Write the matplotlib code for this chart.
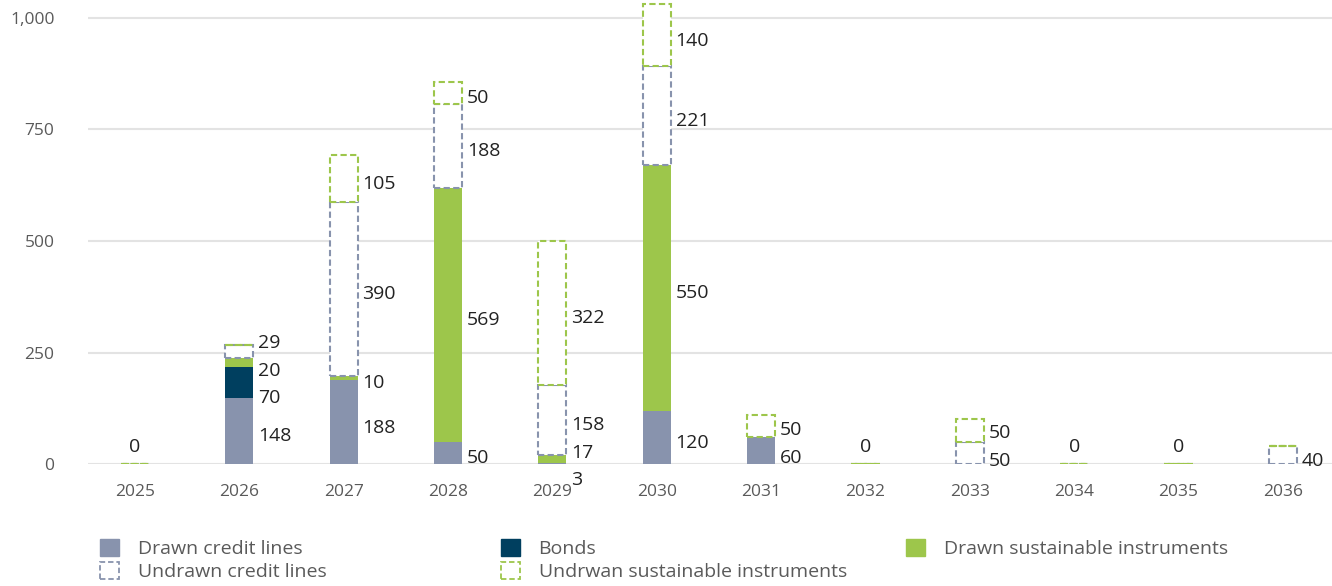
import matplotlib
matplotlib.use("Agg")
import matplotlib.pyplot as plt
from matplotlib.patches import Patch
from matplotlib.ticker import FuncFormatter

# data
years = ["2025", "2026", "2027", "2028", "2029", "2030",
         "2031", "2032", "2033", "2034", "2035", "2036"]
drawn_credit = [0, 148, 188, 50, 3, 120, 60, 0, 0, 0, 0, 0]
bonds = [0, 70, 0, 0, 0, 0, 0, 0, 0, 0, 0, 0]
drawn_sust = [0, 20, 10, 569, 17, 550, 0, 0, 0, 0, 0, 0]
undrawn_credit = [0, 29, 390, 188, 158, 221, 0, 0, 50, 0, 0, 40]
undrawn_sust = [0, 0, 105, 50, 322, 140, 50, 0, 50, 0, 0, 0]

GREY = "#8893ad"
NAVY = "#003f5f"
GREEN = "#9dc64b"
TEXT = "#5a5a5a"
DASH = (0, (3, 1.6))

plt.rcParams["font.family"] = ["Open Sans", "DejaVu Sans"]

fig = plt.figure(figsize=(13.32, 5.86), dpi=100)
ax = fig.add_axes([0.066, 0.208, 0.934, 0.792])

x = list(range(len(years)))
width = 0.27

series = [
    (drawn_credit, dict(color=GREY)),
    (bonds, dict(color=NAVY)),
    (drawn_sust, dict(color=GREEN)),
    (undrawn_credit, dict(facecolor="white", edgecolor=GREY, linestyle=DASH, linewidth=1.5)),
    (undrawn_sust, dict(facecolor="white", edgecolor=GREEN, linestyle=DASH, linewidth=1.5)),
]

bottom = [0] * len(years)
segments = [[] for _ in years]  # (center, value) per bar
for vals, style in series:
    ax.bar(x, vals, width, bottom=bottom, zorder=3, **style)
    for i, v in enumerate(vals):
        if v > 0:
            segments[i].append((bottom[i] + v / 2, v))
    bottom = [b + v for b, v in zip(bottom, vals)]


def spread(targets, gap):
    """Push label positions apart so they keep a minimal gap."""
    clusters = [[t] for t in targets]

    def layout():
        pos = []
        for c in clusters:
            m = sum(c) / len(c)
            start = m - gap * (len(c) - 1) / 2
            pos.append([start + k * gap for k in range(len(c))])
        return pos

    merged = True
    while merged:
        merged = False
        pos = layout()
        for k in range(len(clusters) - 1):
            if pos[k + 1][0] - pos[k][-1] < gap - 1e-9:
                clusters[k] = clusters[k] + clusters[k + 1]
                del clusters[k + 1]
                merged = True
                break
    return [p for c in layout() for p in c]


for i, segs in enumerate(segments):
    if not segs:
        ax.text(i, 38, "0", ha="center", va="center", fontsize=14, color="#222222")
        continue
    ys = spread([c for c, _ in segs], 62)
    for (c, v), yy in zip(segs, ys):
        ax.text(i + width / 2 + 0.045, yy - 12, f"{v}", ha="left", va="center",
                fontsize=14, color="#222222", clip_on=False)

ax.set_xlim(-0.45, 11.47)
ax.set_ylim(0, 1040)
ax.set_yticks([0, 250, 500, 750, 1000])
ax.yaxis.set_major_formatter(FuncFormatter(lambda v, p: f"{int(v):,}"))
ax.set_xticks(x)
ax.set_xticklabels(years)
ax.grid(axis="y", color="#e3e3e3", linewidth=1.5, zorder=0)
ax.set_axisbelow(True)
for s in ax.spines.values():
    s.set_visible(False)
ax.tick_params(axis="both", length=0, labelsize=12.5, labelcolor=TEXT)
ax.tick_params(axis="y", pad=24)
ax.tick_params(axis="x", pad=14)

# legend, three columns placed like the reference
solid = lambda c: Patch(facecolor=c, edgecolor=c)
dashed = lambda c: Patch(facecolor="white", edgecolor=c, linestyle=DASH, linewidth=1.3)
columns = [
    ([solid(GREY), dashed(GREY)], ["Drawn credit lines", "Undrawn credit lines"], 100),
    ([solid(NAVY), dashed(GREEN)], ["Bonds", "Undrwan sustainable instruments"], 501),
    ([solid(GREEN)], ["Drawn sustainable instruments"], 906),
]
for handles, labels, px in columns:
    leg = fig.legend(handles, labels, loc="upper left",
                     bbox_to_anchor=(px / 1332, 1 - 539 / 586),
                     frameon=False, fontsize=14, handlelength=0.98,
                     handleheight=0.98, handletextpad=0.95, labelspacing=0.2,
                     borderpad=0, borderaxespad=0)
    for t in leg.get_texts():
        t.set_color(TEXT)

fig.savefig("out.png", dpi=100)
